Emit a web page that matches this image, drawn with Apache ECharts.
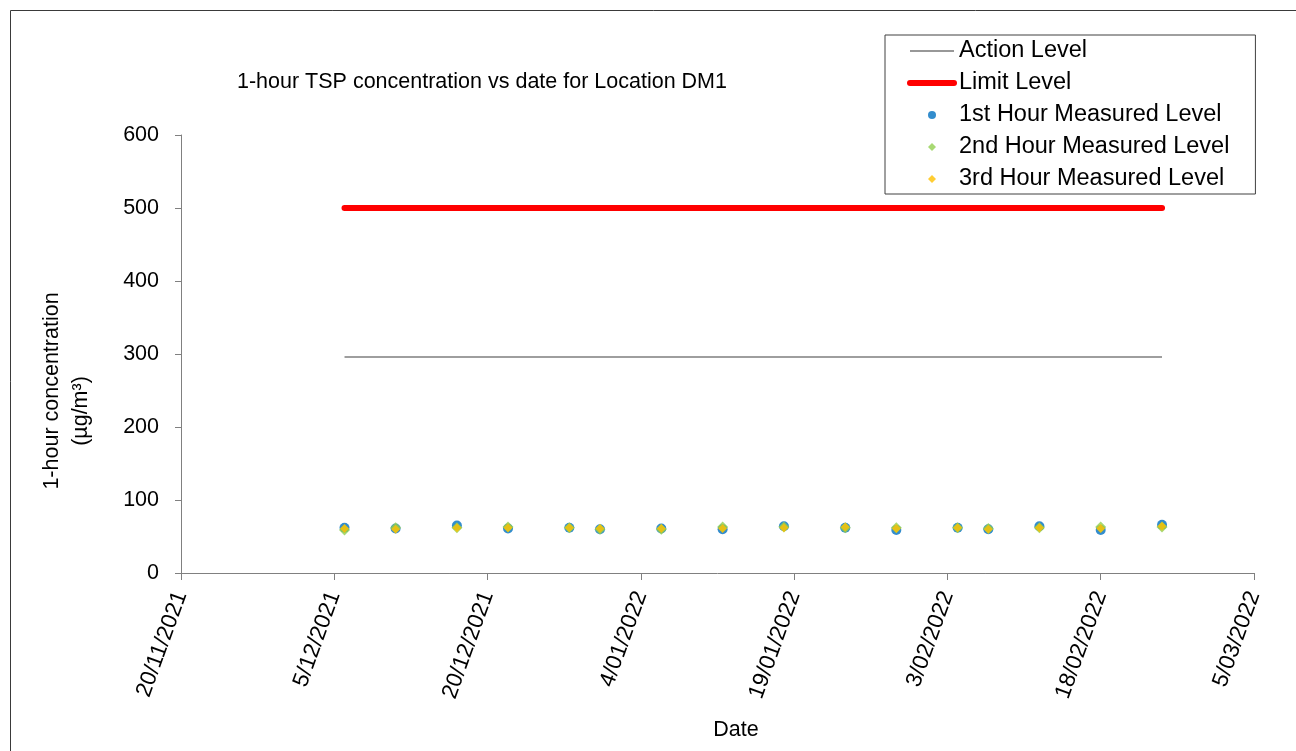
<!DOCTYPE html>
<html>
<head>
<meta charset="utf-8">
<script src="https://cdn.jsdelivr.net/npm/echarts@6/dist/echarts.min.js"></script>
<style>
html,body{margin:0;padding:0;background:#fff;}
#chart{position:absolute;left:0;top:0;width:1296px;height:751px;}
</style>
</head>
<body>
<div id="chart"></div>
<script>
// ---- data ----
const startDate = '2021-11-20';
const dates = ['2021-12-06','2021-12-11','2021-12-17','2021-12-22','2021-12-28','2021-12-31',
               '2022-01-06','2022-01-12','2022-01-18','2022-01-24','2022-01-29',
               '2022-02-04','2022-02-07','2022-02-12','2022-02-18','2022-02-24'];
const hour1 = [62, 61, 65, 61, 62, 60, 61, 60, 64, 62, 59, 62, 60, 64, 59, 66];
const hour2 = [59, 62, 62, 63, 62, 60, 60, 63, 63, 62, 62, 62, 61, 62, 63, 63];
const hour3 = [61, 60, 62, 62, 62, 61, 61, 61, 62, 63, 61, 62, 60, 62, 61, 64];
const actionLevel = [296, 296, 296, 296, 296, 296, 296, 296, 296, 296, 296, 296, 296, 296, 296, 296];
const limitLevel  = [500, 500, 500, 500, 500, 500, 500, 500, 500, 500, 500, 500, 500, 500, 500, 500];
const xTickStepDays = 15;
const xSpanDays = 105;

// ---- helpers ----
const DAY = 86400000;
function toUTC(s){ const p = s.split('-').map(Number); return Date.UTC(p[0], p[1]-1, p[2]); }
const t0 = toUTC(startDate);
function dayOffset(s){ return Math.round((toUTC(s) - t0) / DAY); }
function fmtDay(v){
  const d = new Date(t0 + v * DAY);
  return d.getUTCDate() + '/' + String(d.getUTCMonth()+1).padStart(2,'0') + '/' + d.getUTCFullYear();
}
function pairs(vals){ return dates.map((d,i) => [dayOffset(d), vals[i]]); }

const FONT = "'Liberation Sans', Arial, sans-serif";
const DIAMOND = 'path://M0,-1 L1,0 L0,1 L-1,0 Z';
const chart = echarts.init(document.getElementById('chart'), null, {renderer:'canvas'});

chart.setOption({
  animation: false,
  backgroundColor: '#fff',
  textStyle: { fontFamily: FONT, color: '#000' },
  title: {
    text: '1-hour TSP concentration vs date for Location DM1',
    left: 237, top: 71, padding: 0,
    textStyle: { fontFamily: FONT, fontSize: 21.5, fontWeight: 'normal', color: '#000' }
  },
  legend: {
    orient: 'vertical',
    left: 885, top: 35,
    padding: [4, 26, 3, 22],
    itemWidth: 44, itemHeight: 8, itemGap: 8,
    symbolKeepAspect: true,
    backgroundColor: '#fff',
    borderColor: '#404040', borderWidth: 1, borderRadius: 0,
    textStyle: { fontFamily: FONT, fontSize: 23.5, color: '#000' },
    data: [
      { name: 'Action Level', itemStyle: { opacity: 0 }, lineStyle: { width: 1.2, color: '#333' } },
      { name: 'Limit Level', itemStyle: { opacity: 0 }, lineStyle: { width: 6, cap: 'round', color: '#ff0000' } },
      { name: '1st Hour Measured Level', icon: 'circle' },
      { name: '2nd Hour Measured Level', icon: DIAMOND },
      { name: '3rd Hour Measured Level', icon: DIAMOND }
    ]
  },
  grid: { left: 181, right: 42, top: 135, bottom: 178, containLabel: false },
  xAxis: {
    type: 'value',
    min: 0, max: xSpanDays, interval: xTickStepDays,
    name: 'Date',
    nameLocation: 'middle', nameGap: 146,
    nameTextStyle: { fontFamily: FONT, fontSize: 21.5, color: '#000', padding: [0, 0, 0, 37] },
    axisLine: { show: true, onZero: false, lineStyle: { color: '#808080', width: 1 } },
    axisTick: { show: true, inside: false, length: 7, lineStyle: { color: '#808080' } },
    axisLabel: {
      rotate: 70, margin: 19,
      fontFamily: FONT, fontSize: 22.5, color: '#000',
      formatter: v => fmtDay(v)
    },
    splitLine: { show: false }
  },
  yAxis: {
    type: 'value',
    min: 0, max: 600, interval: 100,
    axisLine: { show: true, lineStyle: { color: '#808080', width: 1 } },
    axisTick: { show: true, inside: false, length: 6, lineStyle: { color: '#808080' } },
    axisLabel: { margin: 22, fontFamily: FONT, fontSize: 21.5, color: '#000' },
    splitLine: { show: false }
  },
  graphic: [
    { type: 'rect', z: -10, silent: true,
      shape: { x: 10.5, y: 10.5, width: 1400, height: 900 },
      style: { fill: 'none', stroke: '#3a3a3a', lineWidth: 1 } },
    { type: 'text', x: 52, y: 391, rotation: Math.PI / 2,
      style: { text: '1-hour concentration', fontFamily: FONT, fontSize: 21.5, fill: '#000',
               textAlign: 'center', textVerticalAlign: 'middle' } },
    { type: 'text', x: 81, y: 411, rotation: Math.PI / 2,
      style: { text: '(µg/m³)', fontFamily: FONT, fontSize: 21.5, fill: '#000',
               textAlign: 'center', textVerticalAlign: 'middle' } }
  ],
  series: [
    { name: 'Action Level', type: 'line', data: pairs(actionLevel),
      symbol: 'none', color: '#7f7f7f',
      lineStyle: { color: '#7f7f7f', width: 1.5 }, z: 2 },
    { name: 'Limit Level', type: 'line', data: pairs(limitLevel),
      symbol: 'none', color: '#ff0000',
      lineStyle: { color: '#ff0000', width: 6, cap: 'round' }, z: 2 },
    { name: '1st Hour Measured Level', type: 'scatter', data: pairs(hour1),
      symbol: 'circle', symbolSize: 10, itemStyle: { color: '#0070C0' }, z: 3 },
    { name: '2nd Hour Measured Level', type: 'scatter', data: pairs(hour2),
      symbol: 'diamond', symbolSize: 11, itemStyle: { color: '#92D050' }, z: 4 },
    { name: '3rd Hour Measured Level', type: 'scatter', data: pairs(hour3),
      symbol: 'diamond', symbolSize: 9, itemStyle: { color: '#FFC000' }, z: 5 }
  ]
});
</script>
</body>
</html>
